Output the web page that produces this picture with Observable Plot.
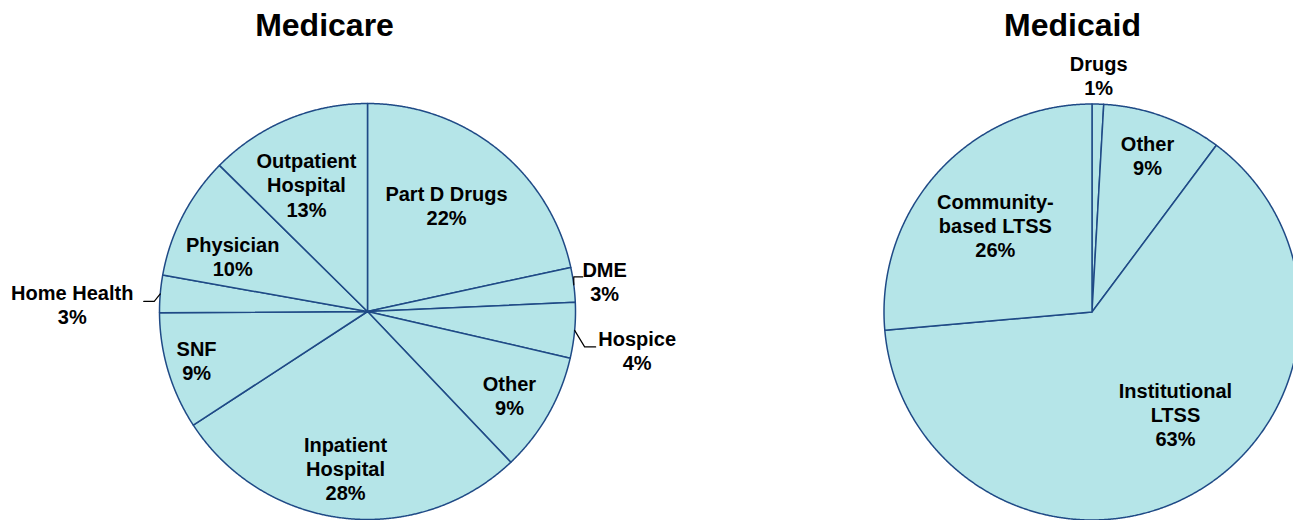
<!DOCTYPE html>
<html>
<head>
<meta charset="utf-8">
<script src="https://cdn.jsdelivr.net/npm/d3@7"></script>
<script src="https://cdn.jsdelivr.net/npm/@observablehq/plot@0.6"></script>
<style>
  html, body { margin: 0; padding: 0; background: #ffffff; }
  #chart svg { display: block; }
</style>
</head>
<body>
<div id="chart"></div>
<script>
// ---- Data ----
const titles = ["Medicare", "Medicaid"];

const medicareCategories = ["Part D Drugs", "DME", "Hospice", "Other", "Inpatient Hospital", "SNF", "Home Health", "Physician", "Outpatient Hospital"];
const medicareLabels = ["Part D Drugs", "DME", "Hospice", "Other", "Inpatient\nHospital", "SNF", "Home Health", "Physician", "Outpatient\nHospital"];
const medicareShares = [21.6, 2.7, 4.3, 9.3, 27.9, 9.1, 2.9, 9.6, 12.6];

const medicaidCategories = ["Drugs", "Other", "Institutional LTSS", "Community-based LTSS"];
const medicaidLabels = ["Drugs", "Other", "Institutional\nLTSS", "Community-\nbased LTSS"];
const medicaidShares = [0.9, 9.3, 63.4, 26.4];

// ---- Layout (not data) ----
const W = 1293, H = 520, R = 208;
const centersPx = { Medicare: [367, 311], Medicaid: [1091.5, 311.5] };
// label placement: [radius factor, angle tweak in degrees] relative to slice mid-angle
const medicarePlace = [[0.636, -2.2], [1.149, 0.2], [1.31, 3.0], [0.793, 0.9], [0.762, 1.3], [0.855, 0.7], [1.42, -3.5], [0.70, -5.2], [0.677, -3.0]];
const medicaidPlace = [[1.14, 0], [0.80, -0.5], [0.634, -10.1], [0.625, -0.5]];
// leader lines: elbow and end offsets (px) from the slice edge at mid-angle
const medicareLeaders = [null, [[0, -8], [9, -8]], [[10, 16.5], [21, 16.5]], null, null, null, [[-6, 7.5], [-16.5, 7.5]], null, null];
const medicaidLeaders = [null, null, null, null];
// title offsets (px) from pie centre
const titleOffsetPx = { Medicare: [-43, -286], Medicaid: [-19.5, -286.5] };

const base = centersPx.Medicare;
const xDomain = [-base[0] / R, (W - base[0]) / R];
const yDomain = [(base[1] - H) / R, base[1] / R];
function centerUnits(name) {
  const [px, py] = centersPx[name];
  return [(px - base[0]) / R, -(py - base[1]) / R];
}

function buildPie(name, cats, shares, labels, places, leaders) {
  const [cx, cy] = centerUnits(name);
  const total = d3.sum(shares);
  let a = 0;
  const polys = [], texts = [], leaderPts = [];
  cats.forEach((c, i) => {
    const a0 = a, a1 = a + shares[i] / total * 360;
    a = a1;
    const key = name + ":" + c;
    polys.push({ key, x: cx, y: cy });
    const n = Math.max(2, Math.ceil((a1 - a0) / 0.25));
    for (let k = 0; k <= n; k++) {
      const t = (a0 + (a1 - a0) * k / n) * Math.PI / 180;
      polys.push({ key, x: cx + Math.sin(t), y: cy + Math.cos(t) });
    }
    polys.push({ key, x: cx, y: cy });
    const mid = (a0 + a1) / 2;
    const [r, da] = places[i];
    const tm = (mid + da) * Math.PI / 180;
    texts.push({ x: cx + r * Math.sin(tm), y: cy + r * Math.cos(tm), text: labels[i] + "\n" + Math.round(shares[i]) + "%" });
    if (leaders[i]) {
      const tmid = mid * Math.PI / 180;
      const sx = cx + Math.sin(tmid), sy = cy + Math.cos(tmid);
      leaderPts.push({ key, x: sx, y: sy });
      leaders[i].forEach(([dx, dy]) => leaderPts.push({ key, x: sx + dx / R, y: sy - dy / R }));
    }
  });
  return { polys, texts, leaderPts };
}

const p1 = buildPie("Medicare", medicareCategories, medicareShares, medicareLabels, medicarePlace, medicareLeaders);
const p2 = buildPie("Medicaid", medicaidCategories, medicaidShares, medicaidLabels, medicaidPlace, medicaidLeaders);
const polys = p1.polys.concat(p2.polys);
const texts = p1.texts.concat(p2.texts);
const leaderPts = p1.leaderPts.concat(p2.leaderPts);
const titleRows = titles.map(t => {
  const [cx, cy] = centerUnits(t);
  const [ox, oy] = titleOffsetPx[t];
  return { text: t, x: cx + ox / R, y: cy - oy / R };
});

const chart = Plot.plot({
  width: W,
  height: H,
  margin: 0,
  x: { domain: xDomain, axis: null },
  y: { domain: yDomain, axis: null },
  style: { fontFamily: "'Liberation Sans', Arial, sans-serif", background: "#ffffff", color: "#000" },
  marks: [
    Plot.line(polys, { x: "x", y: "y", z: "key", fill: "#b5e5e8", stroke: "#1f4a86", strokeWidth: 1.5, strokeLinejoin: "round", curve: "linear" }),
    Plot.line(leaderPts, { x: "x", y: "y", z: "key", stroke: "#000000", strokeWidth: 1.2, curve: "linear" }),
    Plot.text(texts, { x: "x", y: "y", text: "text", fontSize: 20, fontWeight: "bold", lineHeight: 1.21, fill: "#000000" }),
    Plot.text(titleRows, { x: "x", y: "y", text: "text", fontSize: 32, fontWeight: "bold", fill: "#000000" })
  ]
});
document.getElementById("chart").appendChild(chart);
</script>
</body>
</html>
